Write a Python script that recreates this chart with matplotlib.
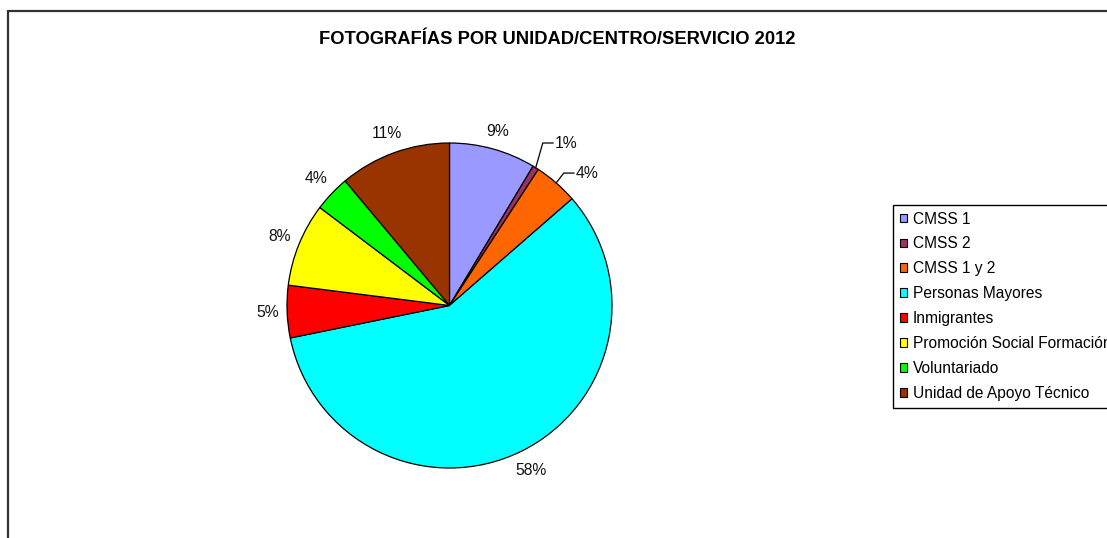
import numpy as np
import matplotlib
matplotlib.use("Agg")
import matplotlib.pyplot as plt
from matplotlib.patches import Rectangle

plt.rcParams['font.family'] = ['Liberation Sans', 'DejaVu Sans']

title = "FOTOGRAFÍAS POR UNIDAD/CENTRO/SERVICIO 2012"
categories = ["CMSS 1", "CMSS 2", "CMSS 1 y 2", "Personas Mayores", "Inmigrantes",
              "Promoción Social Formación", "Voluntariado", "Unidad de Apoyo Técnico"]
shares = [8.6, 0.6, 4.4, 58.2, 5.2, 8.3, 3.6, 11.1]
colors = ["#9999FF", "#993366", "#FF6600", "#00FFFF", "#FF0000",
          "#FFFF00", "#00FF00", "#993300"]

W, H = 1107, 538
fig = plt.figure(figsize=(W / 100, H / 100), dpi=100)

# chart border (extends past right/bottom edges)
fig.patches.append(Rectangle((7.5 / W, -0.2), 1.5, 1 - 11 / H + 0.2,
                             transform=fig.transFigure, fill=False,
                             edgecolor="#333333", linewidth=1.6))

cx, cy, R = 449.5, 305.5, 162.5
ax = fig.add_axes([(cx - R) / W, (H - cy - R) / H, 2 * R / W, 2 * R / H])
wedges, _ = ax.pie(shares, colors=colors, startangle=90, counterclock=False,
                   radius=1, wedgeprops=dict(edgecolor="black", linewidth=0.9))
ax.set_xlim(-1, 1)
ax.set_ylim(-1, 1)
ax.axis("off")

total = sum(shares)
labels = ["%.0f%%" % (100 * v / total) for v in shares]
callouts = {1: (0.649, 1.0), 2: (0.778, 0.815)}
fs = 11.3
for i, (w, lab) in enumerate(zip(wedges, labels)):
    mid = np.deg2rad((w.theta1 + w.theta2) / 2)
    c, s = np.cos(mid), np.sin(mid)
    if i in callouts:
        tx, ty = callouts[i]
        ax.plot([c, tx - 0.075, tx - 0.012], [s, ty, ty], color="black",
                lw=0.9, clip_on=False)
        ax.text(tx, ty, lab, ha="left", va="center", fontsize=fs, color="#111111")
    else:
        tw = 8.2 * (len(lab) - 1) + 13
        th = 13
        d = 1 + (9 + abs(c) * tw / 2 + abs(s) * th / 2) / R
        ax.text(d * c, d * s, lab, ha="center", va="center", fontsize=fs,
                color="#111111")

fig.text(557 / W, 1 - 40 / H, title, ha="center", va="center",
         fontsize=13.2, fontweight="bold")

leg = fig.legend(wedges, categories, loc="upper left",
                 bbox_to_anchor=(893 / W, 1 - 205 / H), borderaxespad=0,
                 frameon=True, fancybox=False, framealpha=1, edgecolor="black",
                 fontsize=11.2, handlelength=0.5, handleheight=0.5,
                 handletextpad=0.35, labelspacing=0.64, borderpad=0.42)
leg.get_frame().set_linewidth(1.0)
for h in leg.legend_handles:
    h.set_linewidth(0.8)

fig.savefig("out.png", dpi=100)
